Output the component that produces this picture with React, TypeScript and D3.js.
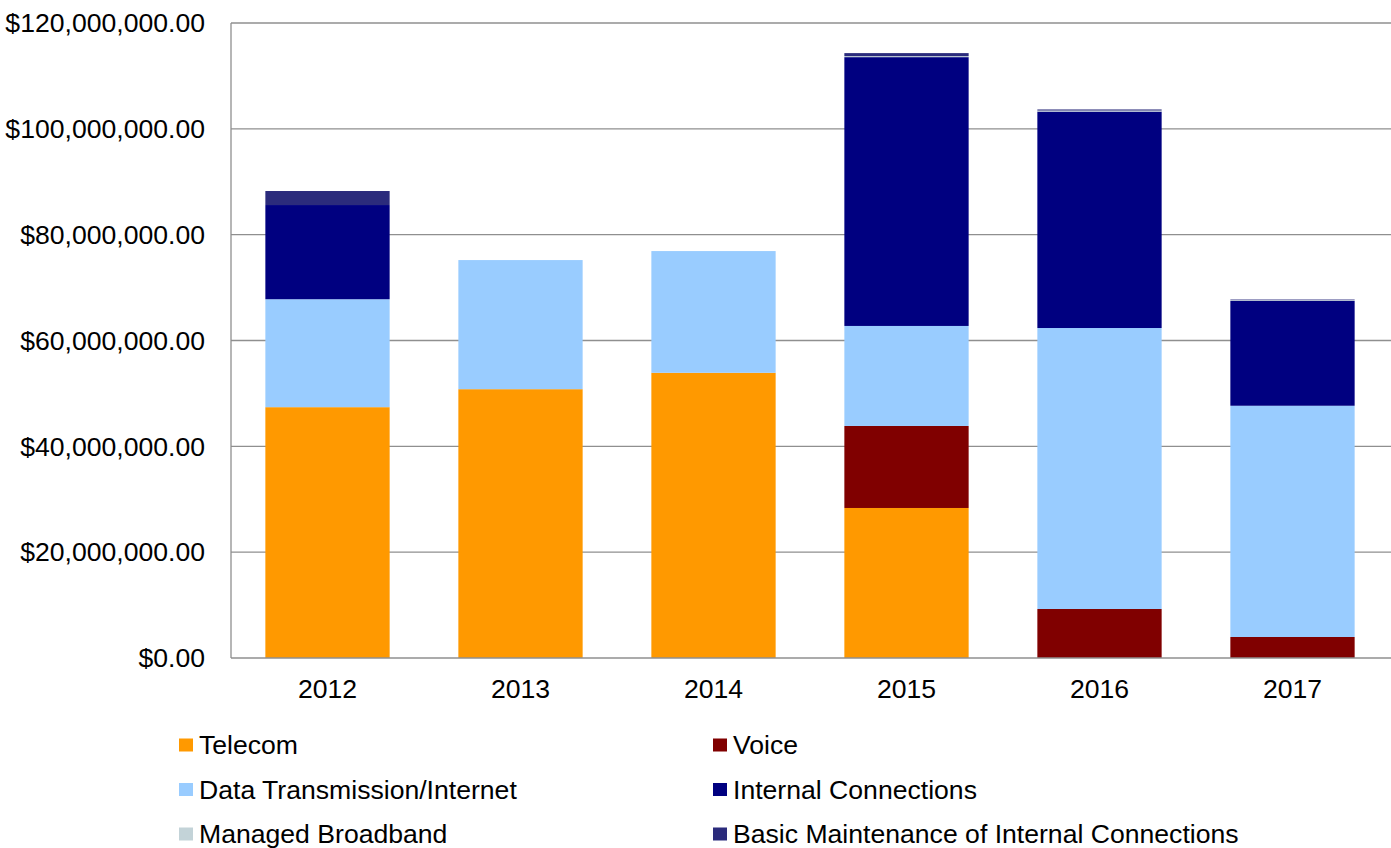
import React from "react";
import * as d3 from "d3";

const years = ["2012", "2013", "2014", "2015", "2016", "2017"];
const telecom = [47.4, 50.8, 53.9, 28.35, 0, 0];
const voice = [0, 0, 0, 15.5, 9.26, 3.97];
const dataTransmission = [20.4, 24.4, 23.0, 18.9, 53.1, 43.7];
const internalConnections = [17.8, 0, 0, 50.8, 40.9, 19.8];
const managedBroadband = [0, 0, 0, 0.19, 0.2, 0.15];
const basicMaintenance = [2.65, 0, 0, 0.57, 0.2, 0.12];
const yTicks = [0, 20, 40, 60, 80, 100, 120];

const seriesNames = [
  "Telecom",
  "Voice",
  "Data Transmission/Internet",
  "Internal Connections",
  "Managed Broadband",
  "Basic Maintenance of Internal Connections",
];
const seriesValues = [telecom, voice, dataTransmission, internalConnections, managedBroadband, basicMaintenance];
const colors = ["#FF9900", "#800000", "#99CCFF", "#000080", "#C3D3D8", "#2B2B7C"];

export default function App() {
  const W = 1391, H = 848;
  const x = d3.scaleBand<string>().domain(years).range([231, 1389]).paddingInner(0.356).paddingOuter(0.178);
  const y = d3.scaleLinear().domain([0, 120]).range([658, 23]);

  const rows = years.map((yr, i) => {
    const r: any = { year: yr };
    seriesNames.forEach((s, k) => (r[s] = seriesValues[k][i]));
    return r;
  });
  const stack = d3.stack<any>().keys(seriesNames)(rows);
  const fmt = (v: number) => "$" + d3.format(",.2f")(v * 1e6);
  const font = "Arial, 'Liberation Sans', sans-serif";
  const fs = 26.6;

  return (
    <svg width={W} height={H} style={{ position: "absolute", left: 0, top: 0, background: "#fff" }} fontFamily={font}>
      {yTicks.map((t) => (
        <g key={t}>
          {t > 0 && <line x1={231} x2={W} y1={y(t)} y2={y(t)} stroke="#8f8f8f" strokeWidth={1.3} />}
          <text x={205} y={y(t)} dy="0.35em" textAnchor="end" fontSize={fs} fill="#000">
            {fmt(t)}
          </text>
        </g>
      ))}
      {stack.map((layer, k) =>
        layer.map((d, i) =>
          d[1] - d[0] > 0 ? (
            <rect
              key={k + "-" + i}
              x={x(years[i])}
              width={x.bandwidth()}
              y={y(d[1])}
              height={y(d[0]) - y(d[1])}
              fill={colors[k]}
            />
          ) : null
        )
      )}
      <line x1={231} x2={231} y1={23} y2={658} stroke="#8f8f8f" strokeWidth={1.3} />
      <line x1={231} x2={W} y1={658} y2={658} stroke="#8f8f8f" strokeWidth={1.3} />
      {years.map((yr) => (
        <text key={yr} x={(x(yr) as number) + x.bandwidth() / 2} y={689} dy="0.35em" textAnchor="middle" fontSize={fs}>
          {yr}
        </text>
      ))}
      {seriesNames.map((s, k) => {
        const col = k % 2;
        const row = Math.floor(k / 2);
        const lx = col === 0 ? 179 : 713;
        const ly = 745 + row * 44.5;
        return (
          <g key={s}>
            <rect x={lx} y={ly - 6.5} width={14} height={13} fill={colors[k]} />
            <text x={lx + 20} y={ly} dy="0.35em" fontSize={fs}>
              {s}
            </text>
          </g>
        );
      })}
    </svg>
  );
}
